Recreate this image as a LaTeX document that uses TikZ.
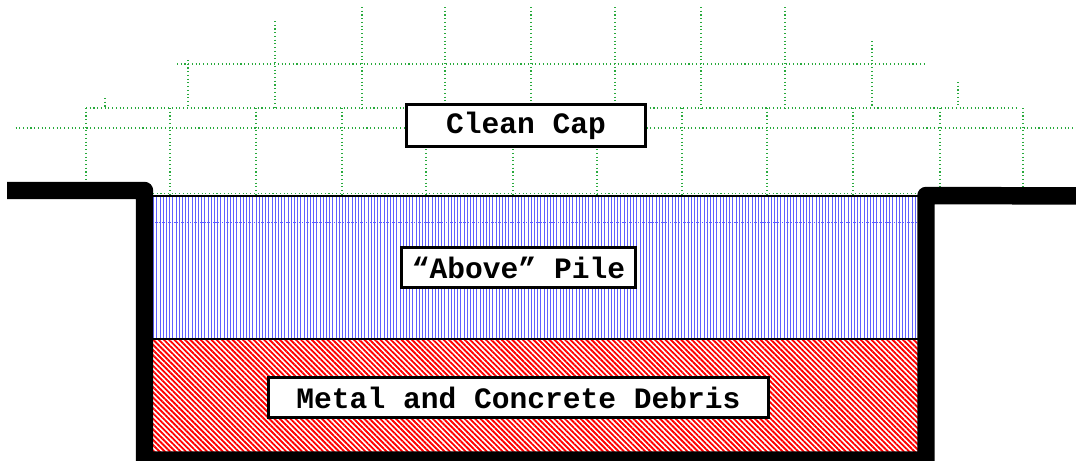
\documentclass[tikz,border=0pt]{standalone}
\usepackage{fontspec}
\setmonofont{Liberation Mono}
\usetikzlibrary{patterns.meta}

\definecolor{capgreen}{RGB}{40,170,60}
\definecolor{pileblue}{RGB}{95,95,255}

\tikzset{
    capgrid/.style={capgreen, dotted, line width=0.8pt},
    labelbox/.style={draw, line width=2.2pt, fill=white, inner sep=0pt,
        font=\ttfamily\bfseries\fontsize{22.2}{26}\selectfont}
}

\begin{document}
\begin{tikzpicture}[x=0.75pt, y=-0.75pt]

    \useasboundingbox (0, 0) rectangle (1076, 461);

    % Clean cap grid (stepped)
    \draw[capgrid] (15.5, 128) -- (1076, 128);
    \draw[capgrid] (86, 108) -- (1016, 108);
    \draw[capgrid] (177, 64) -- (925, 64);
    \foreach \x in {86, 170, 256, 342, 426, 513, 597, 682, 767, 853, 940, 1023}
        \draw[capgrid] (\x, 108) -- (\x, 195);
    \foreach \x/\t in {105/98, 188/60, 275/21, 362/7, 445/7, 531/7, 615/7, 701/7, 785/7, 872/41, 958/82}
        \draw[capgrid] (\x, \t) -- (\x, 108);

    % "Above" pile (vertical hatching)
    \fill[pattern={Lines[angle=90, distance=2.4pt, line width=0.65pt]}, pattern color=pileblue]
        (153, 195.5) rectangle (918, 339);
    \draw[pileblue, densely dotted, line width=0.4pt] (153, 222) -- (918, 222);

    % Metal and concrete debris (diagonal hatching)
    \fill[pattern={Lines[angle=-45, distance=2.8pt, line width=1.4pt]}, pattern color=red]
        (153, 339) rectangle (918, 452);

    % Layer boundaries
    \draw[capgrid] (153, 193.5) -- (918, 193.5);
    \draw[line width=1.5pt] (153, 195.5) -- (918, 195.5);
    \draw[line width=1.5pt] (153, 339) -- (918, 339);

    % Pit outline
    \draw[line width=13.1pt, line join=round]
        (7, 190.5) -- (144.5, 190.5) -- (144.5, 460) -- (926, 460)
        -- (926, 195.5) -- (1090, 196);

    % Layer labels
    \node[labelbox, minimum width=179.25pt, minimum height=31.5pt] (cap) at (526, 125.5) {Clean Cap};
    \node[labelbox, minimum width=175.5pt, minimum height=30pt] (pile) at (518.5, 267.5) {“Above” Pile};
    \node[labelbox, minimum width=375pt, minimum height=30pt] (debris) at (518.5, 397.5) {Metal and Concrete Debris};

\end{tikzpicture}
\end{document}
